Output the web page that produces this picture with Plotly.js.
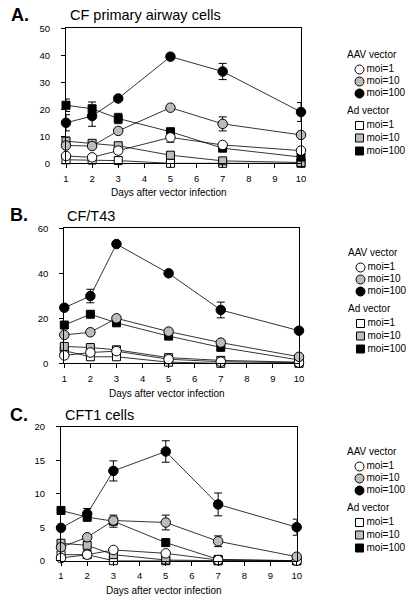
<!DOCTYPE html>
<html>
<head>
<meta charset="utf-8">
<script src="https://cdn.plot.ly/plotly-3.0.1.min.js"></script>
<style>html,body{margin:0;padding:0;background:#fff;}#chart{width:411px;height:601px;}</style>
</head>
<body>
<div id="chart"></div>
<script>
// ---- data ----
const days = [1, 2, 3, 5, 7, 10];
const xTicks = [1, 2, 3, 4, 5, 6, 7, 8, 9, 10];
const seriesNames = ['moi=1', 'moi=10', 'moi=100'];
const groupNames = ['AAV vector', 'Ad vector'];

// Panel A: CF primary airway cells
const aav1_A   = [2.7, 2.2, 4.7, 9.6, 6.8, 4.7];
const aav10_A  = [6.6, 6.4, 12.0, 20.6, 14.6, 10.5];
const aav100_A = [15.0, 17.5, 24.0, 39.5, 34.0, 19.0];
const ad1_A    = [1.3, 1.2, 1.0, 0.0, 0.0, 0.0];
const ad10_A   = [8.2, 7.4, 6.5, 3.0, 0.9, 0.3];
const ad100_A  = [21.5, 20.2, 16.6, 11.7, 5.6, 2.3];
const aav1_A_err   = [0, 0, 0, 1.8, 0, 0];
const aav10_A_err  = [0, 0, 0, 0, 2.6, 0];
const aav100_A_err = [3.0, 3.8, 0, 0, 3.0, 3.5];
const ad10_A_err   = [1.5, 1.0, 0, 0, 0, 0];
const ad100_A_err  = [2.3, 2.5, 1.9, 0, 0, 0];

// Panel B: CF/T43
const aav1_B   = [3.5, 4.8, 5.4, 1.8, 0.7, 0.3];
const aav10_B  = [12.6, 13.8, 20.0, 14.1, 9.2, 2.9];
const aav100_B = [24.7, 29.9, 53.0, 40.0, 23.7, 14.5];
const ad1_B    = [5.6, 2.9, 2.9, 0.5, 0.0, 0.0];
const ad10_B   = [7.5, 7.0, 6.0, 2.5, 1.3, 0.5];
const ad100_B  = [17.0, 21.8, 18.0, 12.1, 7.1, 1.5];
const aav100_B_err = [0, 3.0, 0, 0, 3.5, 0];

// Panel C: CFT1 cells
const aav1_C   = [0.4, 0.9, 1.6, 1.1, 0.1, 0.0];
const aav10_C  = [2.0, 3.5, 6.0, 5.7, 2.9, 0.6];
const aav100_C = [4.9, 7.0, 13.4, 16.3, 8.4, 5.0];
const ad1_C    = [0.9, 0.9, 0.0, 0.0, 0.0, 0.0];
const ad10_C   = [2.6, 2.3, 0.9, 0.1, 0.0, 0.0];
const ad100_C  = [7.5, 6.5, 5.9, 2.7, 0.2, 0.0];
const aav10_C_err  = [0, 0, 0, 1.1, 0.8, 0];
const aav100_C_err = [0, 0.8, 1.5, 1.6, 1.7, 1.2];
const ad100_C_err  = [0, 0.6, 0.9, 0.5, 0, 0];

const panelTitles = ['CF primary airway cells', 'CF/T43', 'CFT1 cells'];
const panelLetters = ['A.', 'B.', 'C.'];
const xTitle = 'Days after vector infection';

// ---- styling ----
const W = 411, H = 601;
const FONT = 'Liberation Sans, Arial, Helvetica, sans-serif';
const GRAY = '#bcbcbc';
const fills = ['#ffffff', GRAY, '#000000'];
const px = v => v / W;
const py = v => 1 - v / H;

const panels = [
  {x0: 66, x1: 301, y0: 163.3, y1: 28.3, yr: [0, 50], dt: 10,
   aav: [aav1_A, aav10_A, aav100_A], ad: [ad1_A, ad10_A, ad100_A],
   aavErr: [aav1_A_err, aav10_A_err, aav100_A_err], adErr: [null, ad10_A_err, ad100_A_err],
   letter: [9, 15], title: [68, 15], xt: [169, 193], leg: [349, 55]},
  {x0: 64.3, x1: 299, y0: 363.3, y1: 228.3, yr: [0, 60], dt: 20,
   aav: [aav1_B, aav10_B, aav100_B], ad: [ad1_B, ad10_B, ad100_B],
   aavErr: [null, null, aav100_B_err], adErr: [null, null, null],
   letter: [8, 215], title: [65, 216], xt: [167, 393], leg: [350, 253]},
  {x0: 61, x1: 296.7, y0: 560.7, y1: 426.7, yr: [0, 20], dt: 5,
   aav: [aav1_C, aav10_C, aav100_C], ad: [ad1_C, ad10_C, ad100_C],
   aavErr: [null, aav10_C_err, aav100_C_err], adErr: [null, null, ad100_C_err],
   letter: [8, 415], title: [63, 415], xt: [164, 590], leg: [349, 452]}
];

const traces = [];
const layout = {
  width: W, height: H,
  margin: {l: 0, r: 0, t: 0, b: 0},
  paper_bgcolor: '#fff', plot_bgcolor: 'rgba(0,0,0,0)',
  showlegend: false,
  font: {family: FONT, color: '#000'},
  annotations: []
};

function errObj(arr) {
  if (!arr) return {visible: false};
  return {type: 'data', array: arr, visible: true, color: '#000', thickness: 1, width: 4};
}

panels.forEach((p, i) => {
  const n = i + 1;
  const xa = n === 1 ? 'x' : 'x' + n;
  const ya = n === 1 ? 'y' : 'y' + n;
  layout['xaxis' + (n === 1 ? '' : n)] = {
    domain: [px(p.x0), px(p.x1)], range: [1, 10], anchor: ya,
    tickmode: 'array', tickvals: xTicks, ticktext: xTicks.map(String),
    ticks: 'outside', ticklen: 4, tickwidth: 1, tickcolor: '#000',
    showline: true, mirror: true, linecolor: '#000', linewidth: 1,
    showgrid: false, zeroline: false, ticklabelstandoff: 2,
    tickfont: {size: 9.5, family: FONT, color: '#000'}
  };
  layout['yaxis' + (n === 1 ? '' : n)] = {
    domain: [py(p.y0), py(p.y1)], range: p.yr, anchor: xa,
    tick0: 0, dtick: p.dt,
    ticks: 'outside', ticklen: 4, tickwidth: 1, tickcolor: '#000',
    showline: true, mirror: true, linecolor: '#000', linewidth: 1,
    showgrid: false, zeroline: false, ticklabelstandoff: 9,
    tickfont: {size: 9.5, family: FONT, color: '#000'}
  };
  // Ad vector (squares) first, AAV (circles) on top
  [0, 1, 2].forEach(k => {
    traces.push({
      type: 'scatter', mode: 'lines+markers', xaxis: xa, yaxis: ya,
      x: days, y: p.ad[k], cliponaxis: false,
      name: 'Ad ' + seriesNames[k],
      line: {color: '#000', width: 0.8},
      marker: {symbol: 'square', size: 8, color: fills[k], line: {color: '#000', width: 1}},
      error_y: errObj(p.adErr[k])
    });
  });
  [0, 1, 2].forEach(k => {
    traces.push({
      type: 'scatter', mode: 'lines+markers', xaxis: xa, yaxis: ya,
      x: days, y: p.aav[k], cliponaxis: false,
      name: 'AAV ' + seriesNames[k],
      line: {color: '#000', width: 0.8},
      marker: {symbol: 'circle', size: 9.5, color: fills[k], line: {color: '#000', width: 1}},
      error_y: errObj(p.aavErr[k])
    });
  });
  // letters, titles, axis titles
  layout.annotations.push({
    xref: 'paper', yref: 'paper', x: px(p.letter[0]), y: py(p.letter[1]),
    xanchor: 'left', yanchor: 'middle', showarrow: false,
    text: '<b>' + panelLetters[i] + '</b>', font: {size: 18, family: FONT, color: '#000'}
  });
  layout.annotations.push({
    xref: 'paper', yref: 'paper', x: px(p.title[0]), y: py(p.title[1]),
    xanchor: 'left', yanchor: 'middle', showarrow: false,
    text: panelTitles[i], font: {size: 14.5, family: FONT, color: '#000'}
  });
  layout.annotations.push({
    xref: 'paper', yref: 'paper', x: px(p.xt[0]), y: py(p.xt[1]),
    xanchor: 'center', yanchor: 'middle', showarrow: false,
    text: xTitle, font: {size: 10, family: FONT, color: '#000'}
  });
});

// ---- custom legends (one per panel) on a page-pixel overlay axis ----
const rowOffsets = [0, 14.5, 26.5, 38.5, 56.5, 70.5, 83, 96];
layout.xaxis4 = {domain: [0, 1], range: [0, W], visible: false, fixedrange: true, anchor: 'y4'};
layout.yaxis4 = {domain: [0, 1], range: [H, 0], visible: false, fixedrange: true, anchor: 'x4'};
const legendFont = {size: 10, family: FONT, color: '#000'};
panels.forEach(p => {
  const hx = p.leg[0], hy = p.leg[1];
  // group headers
  traces.push({
    type: 'scatter', mode: 'text', xaxis: 'x4', yaxis: 'y4', hoverinfo: 'skip',
    x: [hx - 2, hx - 2], y: [hy + rowOffsets[0], hy + rowOffsets[4]],
    text: groupNames, textposition: 'middle right', cliponaxis: false,
    textfont: legendFont
  });
  // AAV markers (circles)
  traces.push({
    type: 'scatter', mode: 'markers', xaxis: 'x4', yaxis: 'y4', hoverinfo: 'skip',
    x: [0, 1, 2].map(() => hx + 10.5), y: [1, 2, 3].map(r => hy + rowOffsets[r]),
    cliponaxis: false,
    marker: {symbol: 'circle', size: 9, color: fills, line: {color: '#000', width: 1}}
  });
  // Ad markers (squares)
  traces.push({
    type: 'scatter', mode: 'markers', xaxis: 'x4', yaxis: 'y4', hoverinfo: 'skip',
    x: [0, 1, 2].map(() => hx + 10.5), y: [5, 6, 7].map(r => hy + rowOffsets[r]),
    cliponaxis: false,
    marker: {symbol: 'square', size: 8, color: fills, line: {color: '#000', width: 1}}
  });
  // item labels
  traces.push({
    type: 'scatter', mode: 'text', xaxis: 'x4', yaxis: 'y4', hoverinfo: 'skip',
    x: [1, 2, 3, 5, 6, 7].map(() => hx + 17.5),
    y: [1, 2, 3, 5, 6, 7].map(r => hy + rowOffsets[r]),
    text: seriesNames.concat(seriesNames), textposition: 'middle right', cliponaxis: false,
    textfont: legendFont
  });
});

Plotly.newPlot('chart', traces, layout, {staticPlot: true, displayModeBar: false});
</script>
</body>
</html>
